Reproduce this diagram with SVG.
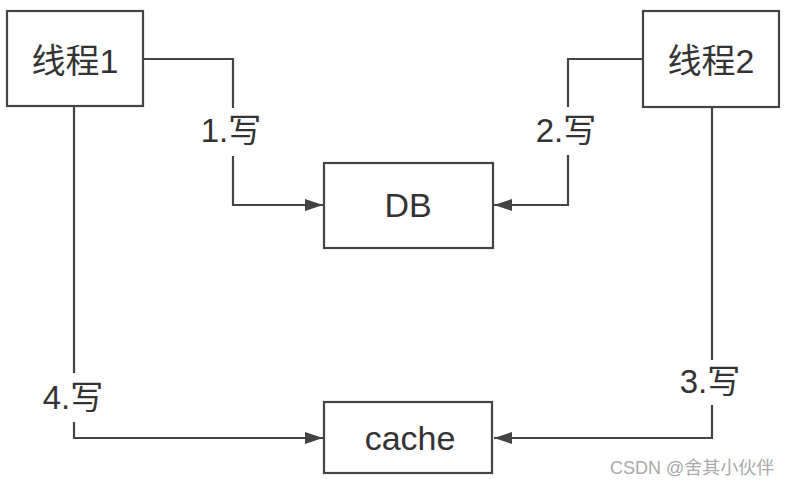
<svg xmlns="http://www.w3.org/2000/svg" width="796" height="487" viewBox="0 0 796 487">
<style>
.box{fill:#fff;stroke:#444;stroke-width:2.2}
.t{font-family:"Liberation Sans","Noto Sans CJK SC",sans-serif;fill:#333;text-anchor:middle;dominant-baseline:central}
.n{font-size:34px}
.l{font-size:33px}
.c{fill:none;stroke:#444;stroke-width:2.2}
.wm{font-family:"Liberation Sans","Noto Sans CJK SC",sans-serif;font-size:18px;fill:#aaa}
</style>
<defs>
<marker id="arr" viewBox="0 0 18 12" refX="18" refY="6" markerWidth="18" markerHeight="12" markerUnits="userSpaceOnUse" orient="auto">
<path d="M0,0 L18,6 L0,12 Z" fill="#444"/>
</marker>
</defs>
<rect width="796" height="487" fill="#fff"/>
<g id="connectors">
<path class="c" d="M143,59 H233 V108"/>
<path class="c" d="M233,156 V205 H323" marker-end="url(#arr)"/>
<path class="c" d="M643,59 H568 V107"/>
<path class="c" d="M568,155 V205 H494" marker-end="url(#arr)"/>
<path class="c" d="M74,106 V373"/>
<path class="c" d="M74,422 V438 H323" marker-end="url(#arr)"/>
<path class="c" d="M712,107 V360"/>
<path class="c" d="M712,405 V438 H494" marker-end="url(#arr)"/>
<text class="t l" x="231" y="130">1.写</text>
<text class="t l" x="566" y="130">2.写</text>
<text class="t l" x="710" y="381">3.写</text>
<text class="t l" x="73" y="397">4.写</text>
</g>
<g id="thread1">
<rect class="box" x="7" y="11" width="136" height="95"/>
<text class="t n" x="75" y="61">线程1</text>
</g>
<g id="thread2">
<rect class="box" x="643" y="11" width="136" height="96"/>
<text class="t n" x="711" y="61">线程2</text>
</g>
<g id="db">
<rect class="box" x="324" y="163" width="169" height="85"/>
<text class="t n" x="408" y="205">DB</text>
</g>
<g id="cache">
<rect class="box" x="324" y="402" width="168" height="71"/>
<text class="t n" x="410" y="438">cache</text>
</g>
<text class="wm" x="610" y="474">CSDN @舍其小伙伴</text>
</svg>
